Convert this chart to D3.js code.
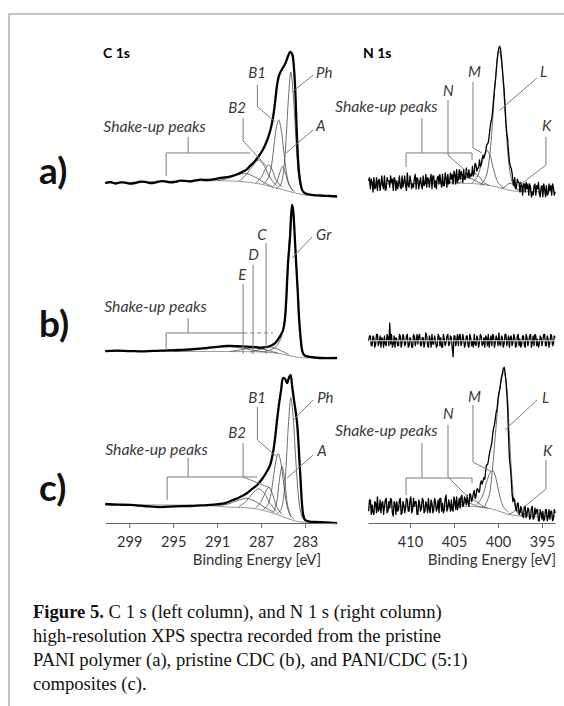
<!DOCTYPE html>
<html>
<head>
<meta charset="utf-8">
<script src="https://cdn.jsdelivr.net/npm/d3@7"></script>
<style>
  body { margin: 0; background: #fff; }
  svg { display: block; }
</style>
</head>
<body>
<svg width="564" height="706"></svg>
<script>
// ---- data ----------------------------------------------------------------
var c1sTicks = [299, 295, 291, 287, 283]
var n1sTicks = [410, 405, 400, 395]
var rowNames = ["a)", "b)", "c)"]

// C 1s, PANI (a)  [binding energy eV, intensity a.u.]
var c1sA = [[301.18,10.6],[300.7,11.2],[300.27,10.3],[299.8,11.0],[299.36,10.9],[298.9,10.2],[298.45,10.6],[298,11.4],[297.55,11.3],[297.1,10.6],[296.64,10.9],[296.2,11.7],[295.73,11.6],[295.3,11.0],[294.82,11.3],[294.4,12.1],[293.91,11.9],[293.45,11.6],[293.0,12.2],[292.5,12.7],[292.09,12.5],[291.6,12.6],[291.18,13.1],[290.7,13.8],[290.27,14.1],[289.64,15.0],[288.91,16.9],[288.36,18.8],[288.0,21.3],[287.64,23.8],[287.27,26.9],[286.91,30.6],[286.55,35.6],[286.18,43.1],[285.91,51.9],[285.73,61.3],[285.55,71.9],[285.36,78.1],[285.09,81.9],[284.82,85.0],[284.55,90.0],[284.36,92.5],[284.18,91.3],[284.0,81],[283.9,69],[283.73,38],[283.55,17],[283.27,6.3],[283.0,4.2],[282.55,3.4],[281.64,2.8],[280.73,2.5],[280.09,2.2]]
var c1sA_bg = [[301.2,10.6],[289.8,11.9],[287.1,10],[285.3,6.9],[283.9,4.4],[283,3.1],[280.1,2.2]]
var c1sA_Ph = [[285.6,7.3],[285.2,10],[284.9,22],[284.7,42],[284.5,65],[284.3,80],[284.1,68],[283.9,46],[283.7,24],[283.5,11],[283.2,5],[282.8,3.2]]
var c1sA_B1 = [[286.8,10.2],[286.4,13],[286.1,20],[285.85,33],[285.6,46],[285.4,50],[285.2,45],[284.95,31],[284.7,17],[284.4,9],[284.0,5.2]]
var c1sA_A = [[286.0,8],[285.6,11],[285.3,17],[285.05,21],[284.8,17],[284.5,10],[284.1,5.5]]
var c1sA_B2 = [[287.5,10.6],[287.0,14],[286.6,19.5],[286.3,22],[286.0,19],[285.6,12],[285.1,8.3]]
var c1sA_S1 = [[289.0,12],[288.4,15.5],[287.8,21],[287.2,25],[286.7,21],[286.2,14],[285.6,9]]
var c1sA_S2 = [[291.0,12.2],[290.0,13.5],[289.2,15.5],[288.4,16.5],[287.6,14.5],[286.8,11.2],[286.0,8.3]]

// C 1s, CDC (b)
var c1sB = [[301.18,5.6],[300.2,5.9],[298.91,5.6],[297.6,5.4],[296.18,5.9],[294.8,6.2],[293.45,6.6],[292.6,7.1],[291.91,7.5],[291.0,8.2],[290.09,8.75],[289.2,8.7],[288.27,8.4],[287.5,8.0],[286.82,7.8],[286.18,8.75],[285.73,10.6],[285.27,15],[285.0,18.75],[284.82,26.9],[284.55,61],[284.36,78],[284.27,90.6],[284.18,96.9],[284.09,93.75],[283.95,78],[283.82,61],[283.68,44],[283.55,26],[283.41,14],[283.27,6],[283.09,3],[282.55,1.9],[281.64,1.25],[280.09,1.25]]
var c1sB_bg = [[301.2,5.3],[290,5.3],[287,5],[285.5,4.2],[284.5,2.8],[283.5,1.6],[280.1,1.2]]
var c1sB_Gr = [[286.5,5.5],[285.8,7.5],[285.3,12],[284.9,22],[284.6,50],[284.4,80],[284.2,94],[284.05,90],[283.9,72],[283.7,45],[283.5,20],[283.3,7],[283.0,2.5],[282.5,1.5]]
var c1sB_C = [[288.0,5],[287.3,6.2],[286.7,7.7],[286.3,8.2],[285.8,7.6],[285.2,5.8],[284.5,3.5]]
var c1sB_D = [[289.8,5.4],[289.0,6.2],[288.3,7.2],[287.7,7.5],[287.0,7.0],[286.2,5.6],[285.5,4.4]]
var c1sB_E = [[295.0,5.4],[293.5,6.0],[292.3,7.2],[291.2,8.1],[290.3,8.4],[289.3,8.0],[288.3,6.9],[287.3,5.6],[286.5,5.1]]

// C 1s, PANI/CDC (c)
var c1sC = [[301.18,12.5],[300.0,12.1],[298.91,11.9],[297.5,11.1],[296.18,10.6],[294.8,11.0],[293.45,11.25],[292.5,11.6],[291.64,11.9],[290.9,12.4],[290.27,13.1],[289.55,15],[288.91,16.9],[288.27,19.4],[287.82,21.9],[287.36,24.4],[286.91,28.1],[286.45,33.1],[286.18,36.9],[285.91,45],[285.73,53.75],[285.55,65],[285.36,75.6],[285.18,83.75],[285.0,91.25],[284.82,90.6],[284.64,88.1],[284.45,91.9],[284.32,93.1],[284.18,86],[284.0,77],[283.73,63],[283.45,32],[283.18,6],[283.0,2.5],[282.6,1.5],[282.09,1.25],[280.09,0.6]]
var c1sC_bg = [[301.2,12],[292,11.5],[289.8,10.5],[288,10],[286.5,8],[285.2,5],[284.2,2.5],[283.3,1.2],[280.1,0.6]]
var c1sC_Ph = [[285.6,6.5],[285.2,9],[284.9,20],[284.7,40],[284.5,64],[284.3,79],[284.1,68],[283.9,46],[283.7,25],[283.5,11],[283.2,3.5],[282.8,1.5]]
var c1sC_B1 = [[286.8,9],[286.4,12],[286.1,19],[285.85,31],[285.6,41],[285.45,44],[285.25,40],[285.0,28],[284.75,15],[284.4,6],[284.0,3]]
var c1sC_A = [[285.9,7],[285.6,13],[285.35,27],[285.1,36],[284.85,27],[284.6,12],[284.3,4.5]]
var c1sC_B2 = [[287.5,10],[287.0,14],[286.6,20],[286.3,23],[286.0,19.5],[285.6,11],[285.1,6]]
var c1sC_S1 = [[289.0,11],[288.4,14],[287.8,19],[287.2,22],[286.7,19],[286.2,13],[285.6,8]]
var c1sC_S2 = [[291.0,11.5],[290.0,12.5],[289.2,14.5],[288.3,16],[287.5,14],[286.7,10.5],[285.9,7.5]]

// N 1s raw counts, sampled from 414.7 eV downwards every 0.1 eV
var n1sStart = 414.7, n1sStep = 0.1
var n1sA = [12,14,7,13,11,5,14,7,8,14, 6,12,13,6,10,15,9,7,15,6,
  7,14,12,12,8,15,11,13,6,14, 13,6,12,7,10,15,8,7,15,8,
  11,15,9,6,17,9,8,15,12,7, 10,8,14,16,7,14,13,7,11,14,
  9,7,15,9,10,16,8,14,13,8, 13,16,7,15,15,8,12,7,14,15,
  10,16,11,8,16,9,9,17,14,8, 16,10,11,17,13,16,10,18,16,10,
  19,11,13,19,13,18,16,11,19,13, 13,20,16,14,19,14,16,15,21,15,
  17,23,22,18,20,20,25,21,22,26, 28,26,28,30,34,35,36,40,45,49,
  51,56,63,69,74,80,87,92,95,96, 94,89,82,75,69,59,49,42,38,30,
  24,21,20,17,12,9,14,7,8,13, 11,11,5,11,9,3,10,10,5,11,
  7,10,3,10,8,2,5,3,9,10, 3,9,7,11,4,2,8,9,2,10,
  7,2,9,3,4,10,6,9,3,10, 8,3,5]
var n1sB = [12,15,15,9,9,15,14,8,10,16, 16,9,11,15,8,14,13,8,15,10,
  9,16,14,9,23,10,16,8,10,15, 8,14,13,9,9,16,15,8,11,16,
  14,9,10,15,16,8,9,14,13,8, 8,16,15,9,12,16,10,15,16,9,
  9,14,14,8,11,17,15,9,8,15, 13,8,16,10,10,15,12,8,9,16,
  15,9,14,8,8,16,13,9,11,15, 16,9,10,15,14,8,2,15,15,9,
  12,16,9,15,16,9,11,16,13,8, 10,15,15,9,8,16,14,9,12,8,
  16,10,9,15,13,8,11,16,15,9, 10,14,8,15,14,9,16,8,12,15,
  9,16,15,8,11,15,13,9,17,10, 9,15,14,8,10,16,16,9,12,15,
  8,14,15,9,11,16,14,8,9,15, 16,9,13,8,10,15,15,9,8,16,
  14,9,12,15,16,8,11,15,9,16, 15,9,13,8,10,15,14,9,12,16,
  16,9,9,15,13,8,11,16,15,9, 10,15,14]
var n1sC = [8,15,15,6,12,7,6,14,13,7, 17,8,9,15,7,13,14,6,11,15,
  16,7,8,14,10,16,15,7,5,14, 13,6,14,8,9,15,16,6,7,14,
  12,7,10,16,15,8,8,15,17,7, 9,16,11,14,14,6,6,15,13,8,
  10,16,15,7,8,14,12,7,16,9, 7,15,13,7,9,16,14,8,10,15,
  7,16,16,8,13,7,9,16,18,8, 10,15,12,8,15,9,8,17,14,9,
  17,9,12,16,10,17,18,11,12,17, 15,12,18,13,11,19,18,14,16,19,
  21,16,17,22,22,20,20,25,27,25, 27,29,28,33,37,37,39,43,46,48,
  51,56,60,62,66,70,72,78,82,84, 88,92,94,97,98,95,90,82,72,55,
  41,36,29,19,14,16,15,10,8,13, 13,6,7,11,9,5,4,11,11,4,
  6,10,9,3,4,10,11,3,4,10, 6,9,9,2,2,9,7,3,8,2,
  3,9,9,2,4,9,3,8,8,2, 3,9,7]

var n1sA_bg = [[414.7,10],[403,10.3],[401.5,9.5],[400,8],[399,6.5],[398,5.5],[393.5,5.2]]
var n1sA_L = [[402.0,9],[401.4,14],[401.0,25],[400.6,50],[400.3,75],[400.0,91],[399.85,93],[399.6,86],[399.3,64],[399.0,38],[398.7,20],[398.3,10],[397.8,6.5],[397.0,5.6]]
var n1sA_M = [[403.0,10.5],[402.4,14],[401.9,22],[401.5,29],[401.25,31],[400.9,28],[400.5,19],[400.0,11],[399.4,7.5]]
var n1sA_N = [[404.6,10.5],[404.0,12],[403.4,15.5],[402.8,17],[402.2,15],[401.6,11],[401.0,9.2]]
var n1sA_K = [[399.6,7],[399.2,8.2],[398.9,9.8],[398.6,10.5],[398.3,9.5],[397.9,7.2],[397.4,5.9]]
var n1sA_S = [[405.8,10.4],[405.0,11.6],[404.3,13.2],[403.6,14],[402.9,13],[402.2,11],[401.5,9.6]]
var n1sB_bg = [[414.7,12],[393.5,12]]
var n1sC_bg = [[414.7,10.6],[403.5,11],[402,10.5],[400.8,9.5],[399.6,7.5],[398.6,5.8],[397.5,5],[393.5,4.8]]
var n1sC_L = [[401.6,10],[401.0,18],[400.6,36],[400.2,62],[399.8,84],[399.35,95],[399.0,85],[398.7,55],[398.4,27],[398.1,12],[397.7,6.5],[397.2,5.2]]
var n1sC_M = [[402.4,12],[401.8,17],[401.3,26],[400.9,32],[400.6,33.5],[400.3,30],[399.9,20],[399.4,11],[398.8,7.2]]
var n1sC_N = [[404.6,11.5],[404.0,12.5],[403.4,14.3],[402.9,15],[402.3,13.5],[401.7,11],[401.1,9.8]]
var n1sC_K = [[398.8,6],[398.4,7],[398.1,8.2],[397.85,8.6],[397.5,8],[397.1,6.3],[396.6,5.2]]
var n1sC_S = [[405.8,11.4],[405.0,12.2],[404.4,13.2],[403.8,13.6],[403.1,12.8],[402.4,11.2],[401.7,10.4]]

// peak labels and their leader lines, in data space [eV, intensity]
var notesC1sA = [
  {t: "B1", at: [288.18, 76.25], lines: [[[287.34,71.9],[287.34,58.3],[285.73,48.9]]]},
  {t: "B2", at: [290.0, 54.4], lines: [[[288.64,51.25],[288.64,36.9],[286.45,20.6]]]},
  {t: "Shake-up peaks", at: [301.36, 42.5], lines: [[[293.64,39.4],[293.64,29.4]], [[295.64,15],[295.64,29.4],[288.0,29.4]]]},
  {t: "Ph", at: [282.0, 76.25], lines: [[[282.27,78.1],[284.18,67.5]]]},
  {t: "A", at: [282.0, 43.1], lines: [[[282.27,43.75],[284.73,29.4]]]}
]
var notesN1sA = [
  {t: "M", at: [403.41, 76.9], lines: [[[402.84,73.75],[402.84,32.5],[401.82,29.4]]]},
  {t: "N", at: [406.25, 65], lines: [[[405.68,62.5],[405.68,28.1],[403.41,16.9]]]},
  {t: "Shake-up peaks", at: [418.52, 55], lines: [[[408.64,51.25],[408.64,29.4]], [[410.45,20.6],[410.45,29.4],[402.95,29.4],[402.95,25]]]},
  {t: "L", at: [395.23, 76.9], lines: [[[395.57,76.25],[399.77,56.25]]]},
  {t: "K", at: [395.0, 43.1], lines: [[[394.55,39.4],[394.55,21.9],[397.5,9.4]]]}
]
var notesC1sB = [
  {t: "C", at: [287.36, 75], lines: [[[286.55,73.1],[286.55,3.75]]]},
  {t: "D", at: [288.18, 62.5], lines: [[[287.73,59.4],[287.73,3.75]]]},
  {t: "E", at: [289.09, 50], lines: [[[288.64,47.5],[288.64,3.75]]]},
  {t: "Shake-up peaks", at: [301.27, 30], lines: [[[293.64,26.25],[293.64,16.9]], [[295.64,6.25],[295.64,16.9],[288.64,16.9]]], dashed: [[[288.64,16.9],[285.91,16.9]]]},
  {t: "Gr", at: [282.0, 75], lines: [[[282.36,76.9],[284.18,63.75]]]}
]
var notesC1sC = [
  {t: "B1", at: [288.18, 75.6], lines: [[[287.34,73.1],[287.34,52.5],[285.55,41.9]]]},
  {t: "B2", at: [290.0, 53.75], lines: [[[288.64,50.6],[288.64,29.4],[286.18,22.5]]]},
  {t: "Shake-up peaks", at: [301.18, 43.1], lines: [[[293.64,41.25],[293.64,29.4]], [[295.55,15],[295.55,29.4],[287.36,29.4]]]},
  {t: "Ph", at: [281.9, 75.6], lines: [[[282.27,77.5],[284.09,65]]]},
  {t: "A", at: [281.9, 42.5], lines: [[[282.27,43.1],[284.64,28.75]]]}
]
var notesN1sC = [
  {t: "M", at: [403.41, 76.25], lines: [[[402.84,74.4],[402.84,38.75],[400.68,32.5]]]},
  {t: "N", at: [406.25, 65.6], lines: [[[405.68,61.9],[405.68,29.4],[403.41,16.9]]]},
  {t: "Shake-up peaks", at: [418.52, 55], lines: [[[408.64,50.6],[408.64,28.75]], [[410.45,18.1],[410.45,28.75],[402.95,28.75],[402.95,25.6]]]},
  {t: "L", at: [395.0, 75.6], lines: [[[395.57,77.5],[399.2,58.75]]]},
  {t: "K", at: [394.89, 42.5], lines: [[[394.55,40],[394.55,21.9],[397.16,10]]]}
]

// ---- layout --------------------------------------------------------------
var svg = d3.select("svg")
var sans = "Lato, 'Open Sans', sans-serif"
var xC = d3.scaleLinear().domain([301.2, 280.1]).range([105, 337])
var xN = d3.scaleLinear().domain([414.77, 393.52]).range([368, 555])
var rowBase = [200, 360, 524]
var yRow = rowBase.map(b => d3.scaleLinear().domain([0, 100]).range([b, b - 160]))
var n1sEnergy = d3.range(n1sA.length).map(i => n1sStart - i * n1sStep)
var asPairs = vals => vals.map((v, i) => [n1sEnergy[i], v])

var panels = [
  {x: xC, row: 0, env: c1sA, bg: c1sA_bg, comps: [c1sA_S2, c1sA_S1, c1sA_B2, c1sA_A, c1sA_B1, c1sA_Ph], notes: notesC1sA},
  {x: xN, row: 0, env: asPairs(n1sA), noisy: true, bg: n1sA_bg, comps: [n1sA_S, n1sA_N, n1sA_M, n1sA_K, n1sA_L], notes: notesN1sA},
  {x: xC, row: 1, env: c1sB, bg: c1sB_bg, comps: [c1sB_E, c1sB_D, c1sB_C, c1sB_Gr], notes: notesC1sB},
  {x: xN, row: 1, env: asPairs(n1sB), noisy: true, bgTop: n1sB_bg, comps: [], notes: []},
  {x: xC, row: 2, env: c1sC, bg: c1sC_bg, comps: [c1sC_S2, c1sC_S1, c1sC_B2, c1sC_A, c1sC_B1, c1sC_Ph], notes: notesC1sC},
  {x: xN, row: 2, env: asPairs(n1sC), noisy: true, bg: n1sC_bg, comps: [n1sC_S, n1sC_N, n1sC_M, n1sC_K, n1sC_L], notes: notesN1sC}
]

// frame
svg.append("path").attr("d", "M9,706V14H564").attr("fill", "none").attr("stroke", "#c4c4c4").attr("stroke-width", 2)

panels.forEach(p => {
  var x = p.x, y = yRow[p.row]
  var g = svg.append("g")
  var straight = d3.line().x(d => x(d[0])).y(d => y(d[1]))
  var smooth = d3.line().x(d => x(d[0])).y(d => y(d[1])).curve(d3.curveCatmullRom.alpha(0.5))

  if (p.bg) g.append("path").attr("d", smooth(p.bg)).attr("fill", "none")
    .attr("stroke", "#8a8a8a").attr("stroke-width", 0.9)
  g.selectAll(".comp").data(p.comps).enter().append("path")
    .attr("class", "comp")
    .attr("d", d => smooth(d))
    .attr("fill", "none").attr("stroke", "#4a4a4a").attr("stroke-width", 0.8)

  g.append("path")
    .attr("d", p.noisy ? straight(p.env) : smooth(p.env))
    .attr("fill", "none").attr("stroke", "#000")
    .attr("stroke-width", p.noisy ? 1.3 : 2.3)
    .attr("stroke-linejoin", "round")

  if (p.bgTop) g.append("path").attr("d", straight(p.bgTop)).attr("fill", "none")
    .attr("stroke", "#e8e8e8").attr("stroke-width", 1)

  p.notes.forEach(n => {
    n.lines.forEach(l => g.append("path").attr("d", straight(l)).attr("fill", "none")
      .attr("stroke", "#7d7d7d").attr("stroke-width", 1))
    if (n.dashed) n.dashed.forEach(l => g.append("path").attr("d", straight(l)).attr("fill", "none")
      .attr("stroke", "#7d7d7d").attr("stroke-width", 1).attr("stroke-dasharray", "4,3"))
    g.append("text")
      .attr("x", x(n.at[0])).attr("y", y(n.at[1]))
      .style("font", "italic " + (n.t.length > 2 ? 15.8 : 15) + "px " + sans).attr("fill", "#3a3a3a")
      .text(n.t)
  })
})

// row letters and column titles
svg.selectAll(".row").data(rowNames).enter().append("text")
  .attr("class", "row")
  .attr("x", 39).attr("y", (d, i) => [184, 337, 501][i])
  .style("font", "bold 37px " + sans).attr("fill", "#111")
  .text(d => d)
svg.append("text").attr("x", 103).attr("y", 58).style("font", "bold 14px " + sans).text("C 1s")
svg.append("text").attr("x", 363).attr("y", 58).style("font", "bold 14px " + sans).text("N 1s")

// axes
function styleAxis(g) {
  g.select(".domain").attr("stroke", "#666")
  g.selectAll(".tick line").attr("stroke", "#666")
  g.selectAll(".tick text").style("font", "14.5px " + sans).attr("fill", "#333")
}
svg.append("g").attr("transform", "translate(0,523)")
  .call(d3.axisBottom(xC).tickValues(c1sTicks).tickSize(5).tickSizeOuter(0).tickPadding(9))
  .call(styleAxis)
svg.append("g").attr("transform", "translate(0,523)")
  .call(d3.axisBottom(xN).tickValues(n1sTicks).tickSize(5).tickSizeOuter(0).tickPadding(9))
  .call(styleAxis)
svg.append("text").attr("x", 257).attr("y", 565).attr("text-anchor", "middle")
  .style("font", "15px " + sans).attr("fill", "#333").text("Binding Energy [eV]")
svg.append("text").attr("x", 492).attr("y", 565).attr("text-anchor", "middle")
  .style("font", "15px " + sans).attr("fill", "#333").text("Binding Energy [eV]")

// caption
var capFont = "18.6px 'Liberation Serif', 'Times New Roman', serif"
var caption = svg.append("text").attr("x", 33).attr("y", 618)
  .style("font", capFont).attr("fill", "#111")
caption.append("tspan").style("font-weight", "bold").text("Figure 5.")
caption.append("tspan").text(" C 1 s (left column), and N 1 s (right column)")
var capLines = ["high-resolution XPS spectra recorded from the pristine",
  "PANI polymer (a), pristine CDC (b), and PANI/CDC (5:1)",
  "composites (c)."]
capLines.forEach((t, i) => svg.append("text").attr("x", 33).attr("y", 642 + i * 24)
  .style("font", capFont).attr("fill", "#111").text(t))
</script>
</body>
</html>
